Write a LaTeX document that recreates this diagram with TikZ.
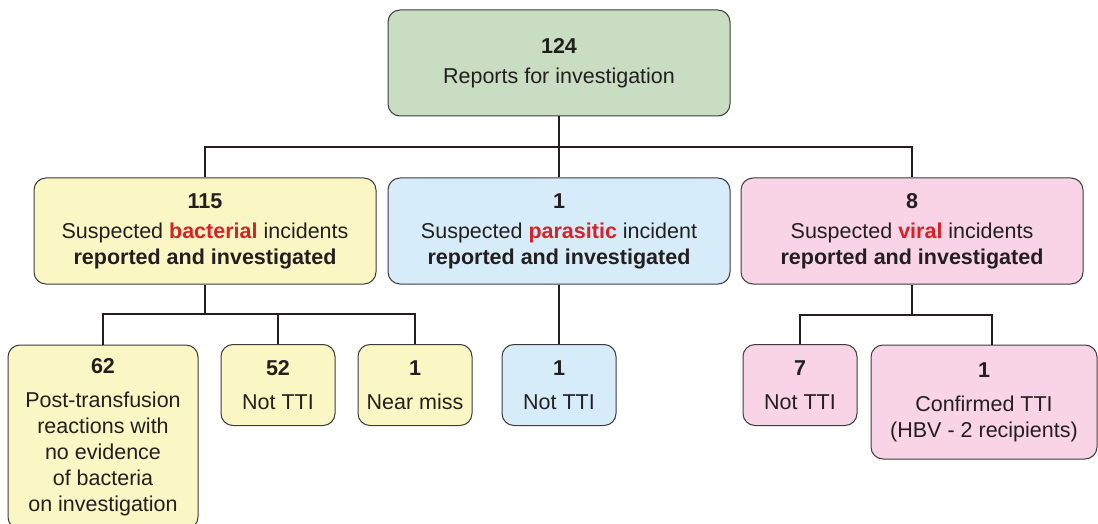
\documentclass[tikz,border=0pt]{standalone}
\usepackage{fontspec}
\setmainfont{Liberation Sans}
\usetikzlibrary{positioning}

\definecolor{reportgreen}{RGB}{200,221,193}
\definecolor{bactyellow}{RGB}{251,247,196}
\definecolor{parablue}{RGB}{214,236,249}
\definecolor{viralpink}{RGB}{248,212,230}
\definecolor{keyred}{RGB}{213,35,42}
\definecolor{boxedge}{RGB}{60,60,60}
\definecolor{inkgray}{RGB}{35,31,32}

\tikzset{
	box/.style={draw=boxedge,line width=1pt,rounded corners=12pt,align=center,inner sep=0pt,
		text=inkgray,font=\fontsize{21.5}{26}\selectfont},
	link/.style={draw=inkgray,line width=2.4pt}
}

\begin{document}
\begin{tikzpicture}[x=1pt,y=-1pt]
	\useasboundingbox (0,0) rectangle (1098,524);
	\node (reports) at (559,63) [box,fill=reportgreen,minimum width=342pt,minimum height=106pt] {\textbf{124}\\[4pt]Reports for investigation};

	\node (bacterial) at (205,231) [box,fill=bactyellow,minimum width=342pt,minimum height=106pt] {\textbf{115}\\[4pt]Suspected \textbf{\color{keyred}bacterial} incidents\\\textbf{reported and investigated}};
	\node (parasitic) at (559,231) [box,fill=parablue,minimum width=342pt,minimum height=106pt] {\textbf{1}\\[4pt]Suspected \textbf{\color{keyred}parasitic} incident\\\textbf{reported and investigated}};
	\node (viral) at (912,231) [box,fill=viralpink,minimum width=342pt,minimum height=106pt] {\textbf{8}\\[4pt]Suspected \textbf{\color{keyred}viral} incidents\\\textbf{reported and investigated}};

	\node (noevidence) at (103,437) [box,fill=bactyellow,minimum width=190pt,minimum height=184pt] {\textbf{62}\\[8pt]Post-transfusion\\reactions with\\no evidence\\of bacteria\\on investigation};
	\node (bactnottti) at (278,385) [box,fill=bactyellow,minimum width=114pt,minimum height=81pt] {\textbf{52}\\[8pt]Not TTI};
	\node (nearmiss) at (415,385) [box,fill=bactyellow,minimum width=114pt,minimum height=81pt] {\textbf{1}\\[8pt]Near miss};
	\node (paranottti) at (559,385) [box,fill=parablue,minimum width=114pt,minimum height=81pt] {\textbf{1}\\[8pt]Not TTI};
	\node (viralnottti) at (800,385) [box,fill=viralpink,minimum width=114pt,minimum height=81pt] {\textbf{7}\\[8pt]Not TTI};
	\node (confirmed) at (984,402) [box,fill=viralpink,minimum width=226pt,minimum height=114pt] {\textbf{1}\\[8pt]Confirmed TTI\\(HBV - 2 recipients)};

	%tree lines
	\coordinate (topsplit) at (559,147);
	\coordinate (bactsplit) at (205,314);
	\coordinate (viralsplit) at (912,315);
	\draw[link] (reports) -- (parasitic);
	\draw[link] (bacterial.north) |- (topsplit) -| (viral.north);
	\draw[link] (bacterial) -- (bactsplit);
	\draw[link] (noevidence.north) |- (bactsplit) -| (nearmiss.north);
	\draw[link] (bactnottti.north) -- (bactnottti.north |- bactsplit);
	\draw[link] (parasitic) -- (paranottti);
	\draw[link] (viral) -- (viralsplit);
	\draw[link] (viralnottti.north) |- (viralsplit) -| ([xshift=8pt]confirmed.north);
\end{tikzpicture}
\end{document}
